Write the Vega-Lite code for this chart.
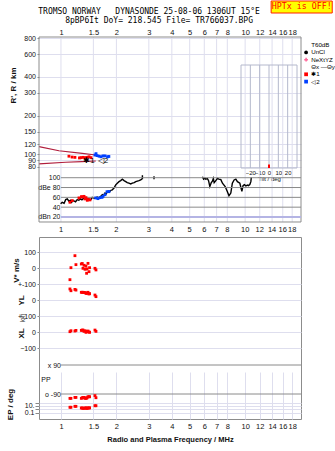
{
  "$schema": "https://vega.github.io/schema/vega-lite/v6.json",
  "background": "white",
  "padding": {"left": 5, "top": 0, "right": 0, "bottom": 0},
  "config": {
    "view": {"stroke": "#8c8c8c", "strokeWidth": 1},
    "axis": {"labelFont": "Liberation Sans", "titleFont": "Liberation Sans", "labelFontSize": 7, "labelColor": "#111", "titleColor": "#111", "tickColor": "#888", "domain": false, "gridColor": "#dedeee", "gridWidth": 1},
    "text": {"font": "Liberation Sans"}
  },
  "datasets": {
    "curves": [
      {"s": "u", "f": 0.76, "R": 115}, {"s": "u", "f": 0.975, "R": 107}, {"s": "u", "f": 1.305, "R": 102}, {"s": "u", "f": 1.545, "R": 99},
      {"s": "l", "f": 0.76, "R": 84.5}, {"s": "l", "f": 1.06, "R": 87}, {"s": "l", "f": 1.3, "R": 88}, {"s": "l", "f": 1.545, "R": 89}
    ],
    "echo": [
      {"s": "✱1", "f": 1.105, "R": 97}, {"s": "✱1", "f": 1.15, "R": 95.5}, {"s": "✱1", "f": 1.191, "R": 95}, {"s": "✱1", "f": 1.26, "R": 94},
      {"s": "✱1", "f": 1.284, "R": 94.5}, {"s": "✱1", "f": 1.317, "R": 95}, {"s": "✱1", "f": 1.351, "R": 94.5}, {"s": "✱1", "f": 1.385, "R": 95},
      {"s": "✱1", "f": 1.42, "R": 96}, {"s": "✱1", "f": 1.456, "R": 94.5},
      {"s": "◁2", "f": 1.53, "R": 99}, {"s": "◁2", "f": 1.55, "R": 101.5}, {"s": "◁2", "f": 1.57, "R": 98}, {"s": "◁2", "f": 1.61, "R": 97},
      {"s": "◁2", "f": 1.65, "R": 96}, {"s": "◁2", "f": 1.69, "R": 97.5}, {"s": "◁2", "f": 1.735, "R": 97.5}, {"s": "◁2", "f": 1.79, "R": 96}, {"s": "◁2", "f": 1.82, "R": 96.5}
    ],
    "lbl": [{"t": "✱1", "f": 1.42, "R": 89}, {"t": "◁2", "f": 1.69, "R": 89}],
    "flabels": [
      {"f": 1, "t": "1"}, {"f": 1.5, "t": "1.5"}, {"f": 2, "t": "2"}, {"f": 3, "t": "3"}, {"f": 4, "t": "4"}, {"f": 5, "t": "5"}, {"f": 6, "t": "6"},
      {"f": 7, "t": "7"}, {"f": 8, "t": "8"}, {"f": 10, "t": "10"}, {"f": 12, "t": "12"}, {"f": 14, "t": "14"}, {"f": 16, "t": "16"}, {"f": 18, "t": "18"}
    ],
    "decho": [
      {"s": "✱1", "f": 1.119, "db": 50}, {"s": "✱1", "f": 1.152, "db": 53.4}, {"s": "✱1", "f": 1.253, "db": 58.8}, {"s": "✱1", "f": 1.292, "db": 61.4},
      {"s": "✱1", "f": 1.305, "db": 60.8}, {"s": "✱1", "f": 1.334, "db": 62}, {"s": "✱1", "f": 1.351, "db": 56.8}, {"s": "✱1", "f": 1.367, "db": 59.4},
      {"s": "✱1", "f": 1.39, "db": 54}, {"s": "✱1", "f": 1.402, "db": 56}, {"s": "✱1", "f": 1.437, "db": 54.8},
      {"s": "◁2", "f": 1.544, "db": 58.8}, {"s": "◁2", "f": 1.588, "db": 57.4}, {"s": "◁2", "f": 1.629, "db": 59.4}, {"s": "◁2", "f": 1.67, "db": 60},
      {"s": "◁2", "f": 1.692, "db": 62}, {"s": "◁2", "f": 1.735, "db": 65.4}, {"s": "◁2", "f": 1.778, "db": 71.4}, {"s": "◁2", "f": 1.823, "db": 72}
    ],
    "amp": [
      {"s": "a", "f": 0.996, "db": 46.8}, {"s": "a", "f": 1.016, "db": 50}, {"s": "a", "f": 1.04, "db": 48}, {"s": "a", "f": 1.061, "db": 55.4},
      {"s": "a", "f": 1.082, "db": 56.8}, {"s": "a", "f": 1.105, "db": 52}, {"s": "a", "f": 1.125, "db": 54}, {"s": "a", "f": 1.143, "db": 50},
      {"s": "a", "f": 1.16, "db": 53}, {"s": "a", "f": 1.177, "db": 52.8}, {"s": "a", "f": 1.2, "db": 51}, {"s": "a", "f": 1.226, "db": 55.4},
      {"s": "a", "f": 1.25, "db": 54}, {"s": "a", "f": 1.279, "db": 56.8}, {"s": "a", "f": 1.3, "db": 55}, {"s": "a", "f": 1.334, "db": 58.8},
      {"s": "a", "f": 1.36, "db": 57}, {"s": "a", "f": 1.39, "db": 55.4}, {"s": "a", "f": 1.42, "db": 56.8}, {"s": "a", "f": 1.45, "db": 55},
      {"s": "a", "f": 1.479, "db": 60}, {"s": "a", "f": 1.52, "db": 58}, {"s": "a", "f": 1.575, "db": 60.8}, {"s": "a", "f": 1.61, "db": 59},
      {"s": "a", "f": 1.643, "db": 62}, {"s": "a", "f": 1.676, "db": 65.4}, {"s": "a", "f": 1.705, "db": 63}, {"s": "a", "f": 1.734, "db": 68.8},
      {"s": "a", "f": 1.76, "db": 67}, {"s": "a", "f": 1.785, "db": 72}, {"s": "a", "f": 1.823, "db": 70}, {"s": "a", "f": 1.86, "db": 74},
      {"s": "a", "f": 1.899, "db": 75.4}, {"s": "a", "f": 1.941, "db": 78.8}, {"s": "a", "f": 1.983, "db": 85.4}, {"s": "a", "f": 2.023, "db": 88.8},
      {"s": "a", "f": 2.066, "db": 92}, {"s": "a", "f": 2.11, "db": 94}, {"s": "a", "f": 2.154, "db": 96.8}, {"s": "a", "f": 2.2, "db": 94},
      {"s": "a", "f": 2.248, "db": 92}, {"s": "a", "f": 2.29, "db": 90}, {"s": "a", "f": 2.339, "db": 88.8}, {"s": "a", "f": 2.392, "db": 87.4},
      {"s": "a", "f": 2.44, "db": 89}, {"s": "a", "f": 2.498, "db": 90}, {"s": "a", "f": 2.548, "db": 92}, {"s": "a", "f": 2.6, "db": 93},
      {"s": "a", "f": 2.652, "db": 94}, {"s": "a", "f": 2.71, "db": 95.4}, {"s": "a", "f": 2.74, "db": 97}, {"s": "a", "f": 2.767, "db": 98.8},
      {"s": "a", "f": 2.768, "db": 105}, {"s": "a", "f": 2.77, "db": 97},
      {"s": "b", "f": 3.2, "db": 97}, {"s": "b", "f": 3.201, "db": 103},
      {"s": "c", "f": 5.86, "db": 102}, {"s": "c", "f": 5.95, "db": 97}, {"s": "c", "f": 6.05, "db": 99}, {"s": "c", "f": 6.11, "db": 96.8},
      {"s": "c", "f": 6.24, "db": 98}, {"s": "c", "f": 6.33, "db": 94}, {"s": "c", "f": 6.43, "db": 82}, {"s": "c", "f": 6.55, "db": 90},
      {"s": "c", "f": 6.64, "db": 92.8}, {"s": "c", "f": 6.72, "db": 98.6}, {"s": "c", "f": 6.79, "db": 90}, {"s": "c", "f": 6.9, "db": 93},
      {"s": "c", "f": 7.07, "db": 98.6}, {"s": "c", "f": 7.2, "db": 97}, {"s": "c", "f": 7.38, "db": 96}, {"s": "c", "f": 7.53, "db": 88.8},
      {"s": "c", "f": 7.79, "db": 82}, {"s": "c", "f": 8.0, "db": 72}, {"s": "c", "f": 8.17, "db": 63.4}, {"s": "c", "f": 8.36, "db": 68.8},
      {"s": "c", "f": 8.52, "db": 88.8}, {"s": "c", "f": 8.71, "db": 95.4}, {"s": "c", "f": 8.9, "db": 97}, {"s": "c", "f": 9.08, "db": 92},
      {"s": "c", "f": 9.36, "db": 88.8}, {"s": "c", "f": 9.6, "db": 72}, {"s": "c", "f": 9.74, "db": 84}, {"s": "c", "f": 9.9, "db": 86},
      {"s": "c", "f": 10.09, "db": 83.4}, {"s": "c", "f": 10.3, "db": 85}, {"s": "c", "f": 10.42, "db": 84}, {"s": "c", "f": 10.6, "db": 86},
      {"s": "c", "f": 10.74, "db": 92}, {"s": "c", "f": 10.8, "db": 100.8}
    ],
    "bot": [
      {"f": 1.119, "v": -73, "yl": 69, "xl": 2, "pp": -117, "ep": 4.3},
      {"f": 1.133, "v": 2, "yl": 58, "xl": 8, "pp": -117, "ep": 4.3},
      {"f": 1.191, "v": 77, "yl": 66, "xl": 6, "pp": -111, "ep": 8},
      {"f": 1.206, "v": 21, "yl": 62, "xl": 10, "pp": -111, "ep": 8},
      {"f": 1.29, "v": 25, "yl": 48, "xl": 10, "pp": -117, "ep": 2.7},
      {"f": 1.305, "v": 28, "yl": 48, "xl": 12, "pp": -114, "ep": 2.7},
      {"f": 1.317, "v": -2, "yl": 48, "xl": 12, "pp": -111, "ep": 2.2},
      {"f": 1.334, "v": 17, "yl": 47, "xl": 4, "pp": -111, "ep": 2.2},
      {"f": 1.351, "v": -8, "yl": 46, "xl": 8, "pp": -117, "ep": 2.7},
      {"f": 1.367, "v": 12, "yl": 42, "xl": -2, "pp": -117, "ep": 2.7},
      {"f": 1.378, "v": -33, "yl": 43, "xl": 2, "pp": -114, "ep": 2.5},
      {"f": 1.385, "v": -6, "yl": 42, "xl": 4, "pp": -114, "ep": 2.2},
      {"f": 1.402, "v": 29, "yl": 48, "xl": 6, "pp": -107, "ep": 2.7},
      {"f": 1.42, "v": -23, "yl": 37.5, "xl": 0, "pp": -107, "ep": 2.7},
      {"f": 1.43, "v": 2, "yl": 40, "xl": -2, "pp": -107, "ep": 3},
      {"f": 1.53, "v": -2, "yl": 31, "xl": 12, "pp": -100, "ep": 12},
      {"f": 1.549, "v": -12, "yl": 21, "xl": 4, "pp": -113, "ep": 12}
    ],
    "tilt": [{"t": -20}, {"t": -10}, {"t": 0}, {"t": 10}, {"t": 20}],
    "one": [{}]
  },
  "spacing": 0,
  "bounds": "flush",
  "vconcat": [
    {
      "width": 262,
      "height": 200,
      "view": {"stroke": null},
      "layer": [
        {
          "layer": [
            {
              "data": {"name": "flabels"},
              "mark": {"type": "rule", "color": "#dedeee", "strokeWidth": 1},
              "encoding": {
                "x": {"field": "f", "type": "quantitative", "scale": {"type": "log", "domain": [0.76, 20.1], "nice": false}, "axis": {"orient": "top", "values": [1, 1.5, 2, 3, 4, 5, 6, 7, 8, 10, 12, 14, 16, 18], "format": "~g", "title": null, "grid": false, "ticks": false, "labelPadding": 1, "labelFontSize": 7.5, "labelOverlap": false, "labelFlush": false}},
                "y": {"datum": 815, "type": "quantitative", "scale": {"type": "log", "domain": [75.8, 815], "range": [133, 0], "nice": false}, "axis": {"orient": "left", "values": [80, 90, 100, 120, 150, 200, 300, 400, 600, 800], "format": "~g", "title": "R', R / km", "titleFontSize": 8, "titleFontWeight": "bold", "titlePadding": 6, "titleY": 48, "grid": true, "tickSize": 2, "labelPadding": 1.5, "labelFontSize": 7, "labelOverlap": false, "labelFlush": false}},
                "y2": {"datum": 29.95}
              }
            },
            {
              "data": {"name": "curves"},
              "mark": {"type": "line", "color": "#b01c3c", "strokeWidth": 1.1},
              "encoding": {
                "x": {"field": "f", "type": "quantitative"},
                "y": {"field": "R", "type": "quantitative"},
                "detail": {"field": "s"}
              }
            },
            {
              "data": {"name": "echo"},
              "mark": {"type": "point", "filled": true, "size": 8, "opacity": 1},
              "encoding": {
                "x": {"field": "f", "type": "quantitative"},
                "y": {"field": "R", "type": "quantitative"},
                "color": {"field": "s", "type": "nominal", "scale": {"domain": ["T60dB", "UnCl", "NeXtYZ", "Θx —Θy", "✱1", "◁2"], "range": ["#999999", "#000000", "#ff6699", "#ff8080", "#ff0000", "#0040ff"]},
                  "legend": {"title": null, "orient": "none", "legendX": 264, "legendY": 5, "labelFont": "Liberation Sans", "labelFontSize": 6.2, "labelColor": "#000", "symbolSize": 14, "rowPadding": 0.3, "labelOffset": 2, "padding": 0, "symbolStrokeWidth": 1.3, "encode": {"symbols": {"update": {"stroke": {"scale": "color", "field": "value"}, "size": {"signal": "datum.value == 'UnCl' ? 3 : 14"}}}}}},
                "shape": {"field": "s", "type": "nominal", "scale": {"domain": ["T60dB", "UnCl", "NeXtYZ", "Θx —Θy", "✱1", "◁2"], "range": ["stroke", "circle", "cross", "stroke", "square", "square"]},
                  "legend": {"title": null, "orient": "none", "legendX": 264, "legendY": 5, "labelFont": "Liberation Sans", "labelFontSize": 6.2, "labelColor": "#000", "symbolSize": 14, "rowPadding": 0.3, "labelOffset": 2, "padding": 0, "symbolStrokeWidth": 1.3, "encode": {"symbols": {"update": {"stroke": {"scale": "color", "field": "value"}, "size": {"signal": "datum.value == 'UnCl' ? 3 : 14"}}}}}}
              }
            },
            {
              "data": {"name": "lbl"},
              "mark": {"type": "text", "fontSize": 8, "color": "#000"},
              "encoding": {"x": {"field": "f", "type": "quantitative"}, "y": {"field": "R", "type": "quantitative"}, "text": {"field": "t"}}
            },
            {
              "data": {"name": "flabels"},
              "mark": {"type": "text", "fontSize": 7.5, "color": "#111", "baseline": "middle"},
              "encoding": {"x": {"field": "f", "type": "quantitative"}, "y": {"datum": 26}, "text": {"field": "t"}}
            },
            {
              "data": {"name": "one"},
              "mark": {"type": "rect", "filled": false, "color": "#8c8c8c", "strokeWidth": 1},
              "encoding": {"x": {"datum": 0.76}, "x2": {"datum": 20.1}, "y": {"datum": 815}, "y2": {"datum": 29.95}}
            },
            {
              "data": {"name": "one"},
              "mark": {"type": "rect", "fill": "#ffff00", "stroke": "#ff2000", "strokeWidth": 1},
              "encoding": {"x": {"datum": 13.84}, "x2": {"datum": 29.7}, "y": {"datum": 1550}, "y2": {"datum": 1251}}
            },
            {
              "data": {"name": "one"},
              "mark": {"type": "text", "text": "HPTx is OFF!", "color": "#ff0000", "font": "DejaVu Sans Mono", "fontSize": 8.3},
              "encoding": {"x": {"datum": 20.28}, "y": {"datum": 1390}}
            },
            {
              "data": {"name": "one"},
              "mark": {"type": "text", "text": "TROMSO NORWAY\u00a0\u00a0\u00a0DYNASONDE 25-08-06 1306UT 15°E", "color": "#000", "font": "DejaVu Sans Mono", "fontSize": 8},
              "encoding": {"x": {"datum": 3.008}, "y": {"datum": 1275}}
            },
            {
              "data": {"name": "one"},
              "mark": {"type": "text", "text": "8pBP6It DoY= 218.545 File= TR766037.BPG", "color": "#000", "font": "DejaVu Sans Mono", "fontSize": 8},
              "encoding": {"x": {"datum": 3.41}, "y": {"datum": 1090}}
            }
          ]
        },
        {
          "layer": [
            {
              "data": {"name": "amp"},
              "mark": {"type": "line", "color": "#000", "strokeWidth": 1.4},
              "encoding": {
                "x": {"field": "f", "type": "quantitative", "scale": {"type": "log", "domain": [0.76, 20.1], "nice": false}, "axis": null},
                "y": {"field": "db", "type": "quantitative", "scale": {"domain": [9.8, 115.7], "range": [185, 133], "nice": false, "zero": false}, "axis": {"orient": "left", "offset": -22, "values": [100, 80, 60, 40, 20], "labelExpr": "datum.value==80?'dBe 80':datum.value==20?'dBn 20':datum.label", "title": null, "grid": false, "ticks": false, "labelPadding": 1, "labelFontSize": 7, "labelOverlap": false, "labelFlush": false}},
                "detail": {"field": "s"}
              }
            },
            {
              "data": {"values": [{"db": 100}, {"db": 80}, {"db": 60}, {"db": 40}]},
              "mark": {"type": "rule", "color": "#8a8a8a", "strokeWidth": 1},
              "encoding": {"x": {"datum": 1}, "x2": {"datum": 20.1}, "y": {"field": "db", "type": "quantitative"}}
            },
            {
              "data": {"values": [{"db": 20}]},
              "mark": {"type": "rule", "color": "#b4b4e4", "strokeWidth": 2},
              "encoding": {"x": {"datum": 1}, "x2": {"datum": 20.1}, "y": {"field": "db", "type": "quantitative"}}
            },
            {
              "data": {"name": "decho"},
              "transform": [{"filter": "datum.s == '✱1'"}],
              "mark": {"type": "square", "size": 8, "color": "#ff0000", "opacity": 1},
              "encoding": {"x": {"field": "f", "type": "quantitative"}, "y": {"field": "db", "type": "quantitative"}}
            },
            {
              "data": {"name": "decho"},
              "transform": [{"filter": "datum.s == '◁2'"}],
              "mark": {"type": "square", "size": 8, "color": "#0040ff", "opacity": 1},
              "encoding": {"x": {"field": "f", "type": "quantitative"}, "y": {"field": "db", "type": "quantitative"}}
            }
          ]
        },
        {
          "layer": [
            {
              "data": {"name": "one"},
              "mark": {"type": "rect", "filled": false, "color": "#b4b8cc", "strokeWidth": 1},
              "encoding": {
                "x": {"datum": -30, "type": "quantitative", "scale": {"domain": [-30, 30], "range": [202, 258], "nice": false, "zero": false}, "axis": {"orient": "bottom", "offset": -69, "values": [-20, -10, 0, 10, 20], "labelFontSize": 6, "labelPadding": 1, "ticks": false, "grid": false, "title": "Tilt / deg", "titleFontSize": 6, "titleFontWeight": "normal", "titlePadding": 0, "labelOverlap": false, "labelFlush": false}},
                "x2": {"datum": 30},
                "y": {"datum": 0, "type": "quantitative", "scale": {"domain": [0, 1], "range": [131, 28], "nice": false, "zero": false}, "axis": null},
                "y2": {"datum": 1}
              }
            },
            {
              "data": {"name": "tilt"},
              "mark": {"type": "rule", "color": "#b4b8cc"},
              "encoding": {"x": {"field": "t", "type": "quantitative"}, "y": {"datum": 0}, "y2": {"datum": 1}}
            },
            {
              "data": {"name": "one"},
              "mark": {"type": "rule", "color": "#ff0000", "strokeWidth": 2},
              "encoding": {"x": {"datum": 0}, "y": {"datum": 0}, "y2": {"datum": 0.035}}
            }
          ]
        }
      ],
      "resolve": {"scale": {"x": "independent", "y": "independent"}, "axis": {"x": "independent", "y": "independent"}}
    },
    {
      "width": 262,
      "height": 182,
      "layer": [
        {
          "data": {"name": "bot"},
          "mark": {"type": "square", "size": 8, "color": "#ff0000", "opacity": 1},
          "encoding": {
            "x": {"field": "f", "type": "quantitative", "scale": {"type": "log", "domain": [0.76, 20.1], "nice": false}, "axis": {"orient": "bottom", "values": [1, 1.5, 2, 3, 4, 5, 6, 7, 8, 10, 12, 14, 16, 18], "format": "~g", "title": "Radio and Plasma Frequency / MHz", "titleFontSize": 7.5, "titleFontWeight": "bold", "titlePadding": 6, "grid": true, "ticks": false, "labelPadding": 3, "labelFontSize": 7.5, "labelOverlap": false, "labelFlush": false}},
            "y": {"field": "v", "type": "quantitative", "scale": {"domain": [-100, 193.75], "range": [47, 0], "nice": false, "zero": false}, "axis": {"orient": "left", "values": [100, 0], "title": "V* m/s", "titleFontSize": 8, "titleFontWeight": "bold", "titlePadding": 3, "titleY": 33, "grid": true, "tickSize": 2, "labelPadding": 1.5, "labelOverlap": false, "labelFlush": false}}
          }
        },
        {
          "data": {"name": "bot"},
          "mark": {"type": "square", "size": 8, "color": "#ff0000", "opacity": 1},
          "encoding": {
            "x": {"field": "f", "type": "quantitative"},
            "y": {"field": "yl", "type": "quantitative", "scale": {"domain": [-100, 100], "range": [79, 47], "nice": false, "zero": false}, "axis": {"orient": "left", "values": [100, 0], "labelExpr": "datum.value==100?'+-100':'0'", "title": "YL", "titleFontSize": 8, "titleFontWeight": "bold", "titlePadding": -8, "grid": true, "tickSize": 2, "labelPadding": 1.5, "labelOverlap": false, "labelFlush": false}}
          }
        },
        {
          "layer": [
            {
              "data": {"name": "bot"},
              "mark": {"type": "square", "size": 8, "color": "#ff0000", "opacity": 1},
              "encoding": {
                "x": {"field": "f", "type": "quantitative"},
                "y": {"field": "xl", "type": "quantitative", "scale": {"domain": [-150, 100], "range": [119, 79], "nice": false, "zero": false}, "axis": {"orient": "left", "values": [100, 0, -100], "labelExpr": "datum.value==100?'+-100':datum.label", "title": "XL", "titleFontSize": 8, "titleFontWeight": "bold", "titlePadding": -8, "titleY": 96, "grid": true, "tickSize": 2, "labelPadding": 1.5, "labelOverlap": false, "labelFlush": false}}
              }
            },
            {
              "data": {"name": "one"},
              "mark": {"type": "text", "text": "km", "angle": 270, "fontSize": 6.5, "color": "#333"},
              "encoding": {"x": {"datum": 0.6216}, "y": {"datum": 87.5}}
            }
          ]
        },
        {
          "layer": [
            {
              "data": {"values": [{"pp": 90}, {"pp": -90}]},
              "mark": {"type": "rule", "color": "#8a8a8a", "strokeWidth": 1},
              "encoding": {
                "x": {"datum": 1},
                "x2": {"datum": 20.1},
                "y": {"field": "pp", "type": "quantitative", "scale": {"domain": [-127.2, 145.9], "range": [163, 119], "nice": false, "zero": false}, "axis": {"orient": "left", "offset": -22, "values": [90, -90], "labelExpr": "datum.value==90?'x 90':'o -90'", "title": null, "grid": false, "ticks": false, "labelPadding": 0.5, "labelOverlap": false, "labelFlush": false}}
              }
            },
            {
              "data": {"name": "bot"},
              "mark": {"type": "square", "size": 8, "color": "#ff0000", "opacity": 1},
              "encoding": {"x": {"field": "f", "type": "quantitative"}, "y": {"field": "pp", "type": "quantitative"}}
            },
            {
              "data": {"name": "one"},
              "mark": {"type": "text", "text": "PP", "fontSize": 7, "color": "#111"},
              "encoding": {"x": {"datum": 0.829}, "y": {"datum": 0}}
            }
          ]
        },
        {
          "data": {"name": "bot"},
          "mark": {"type": "square", "size": 8, "color": "#ff0000", "opacity": 1},
          "encoding": {
            "x": {"field": "f", "type": "quantitative"},
            "y": {"field": "ep", "type": "quantitative", "scale": {"type": "log", "domain": [0.00193, 518], "range": [182, 163], "nice": false}, "axis": {"orient": "left", "values": [100, 10, 1, 0.1], "labelExpr": "datum.value==10?'10.':datum.value==0.1?'0.1':''", "title": "EP / deg", "titleFontSize": 8, "titleFontWeight": "bold", "titlePadding": 10, "titleY": 167, "grid": true, "tickSize": 4, "labelPadding": 1, "labelOverlap": false, "labelFlush": false}}
          }
        }
      ],
      "resolve": {"scale": {"y": "independent"}, "axis": {"y": "independent"}}
    }
  ]
}
